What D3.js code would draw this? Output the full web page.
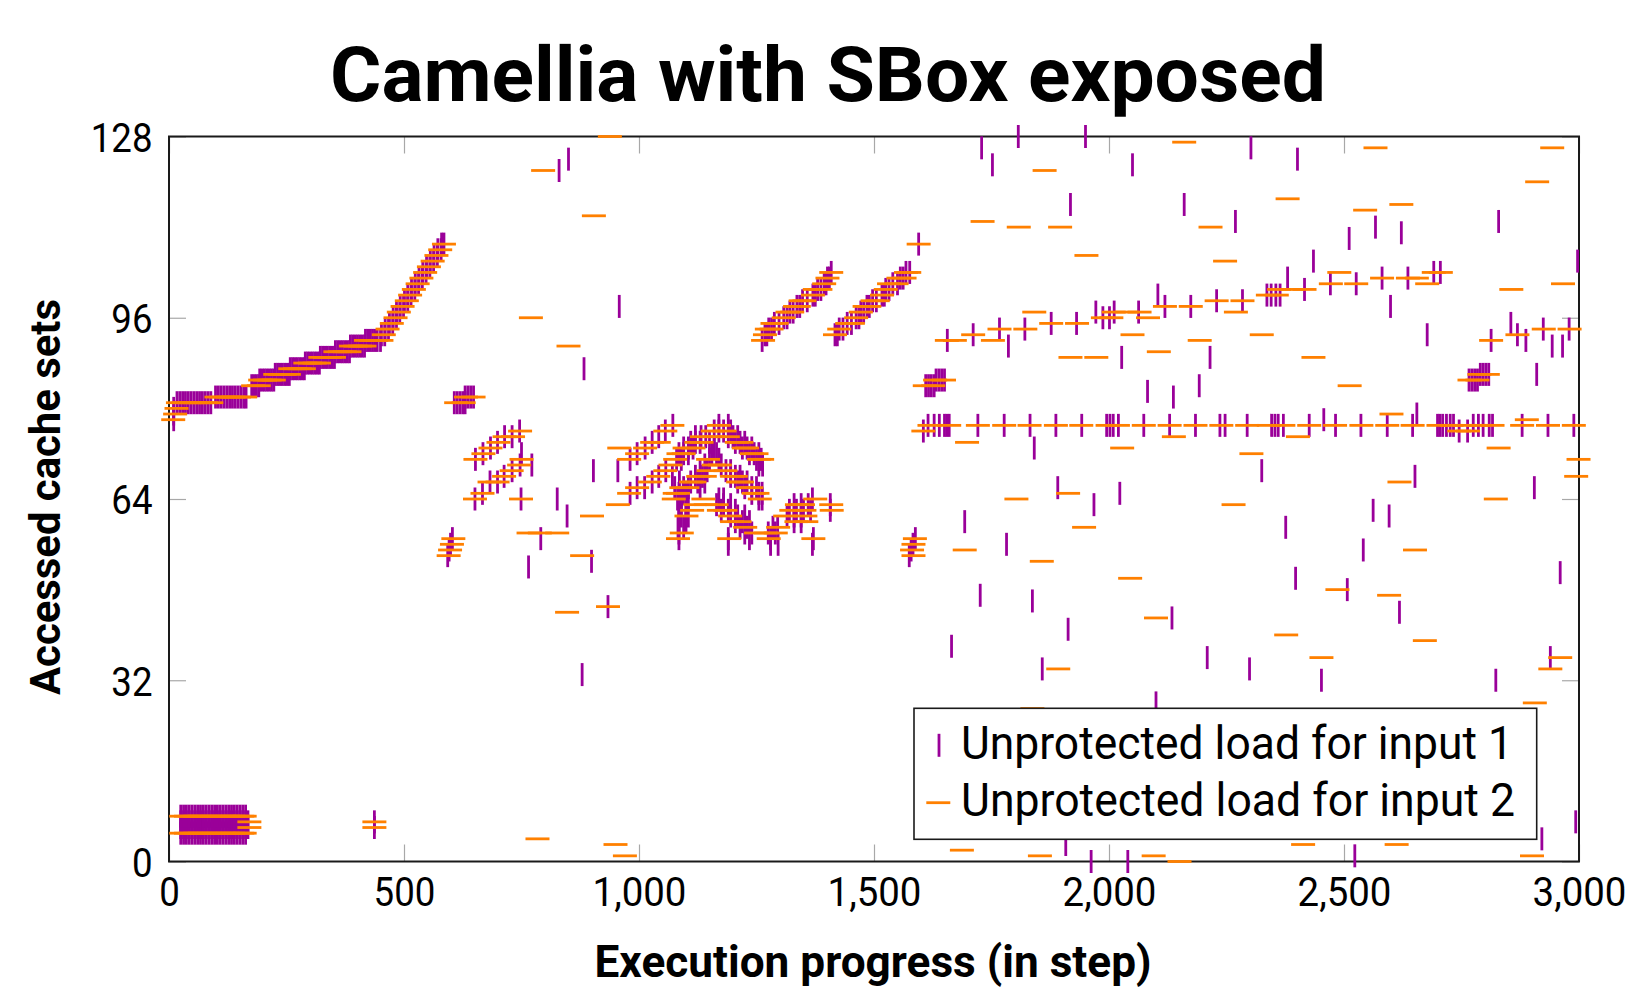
<!doctype html>
<html>
<head>
<meta charset="utf-8">
<script src="https://d3js.org/d3.v7.min.js"></script>
<style>
body { margin: 0; background: #fff; }
text { font-family: Roboto, "DejaVu Sans", sans-serif; }
</style>
</head>
<body>
<script>
// ---------------- data ----------------
// rows are [cache set, [execution steps ...]]
var xTicks = [0, 500, 1000, 1500, 2000, 2500, 3000];
var yTicks = [0, 32, 64, 96, 128];
var seriesNames = ["Unprotected load for input 1", "Unprotected load for input 2"];
var titleText = "Camellia with SBox exposed";

var lowBlockSteps = [25,31,37,43,49,55,61,67,73,79,85,91,97,103,109,115,121,127,133,139,145,151,157,163];
var lowBlockSteps2 = [26,36,46,56,66,76,86,96,106,116,126,136,146,156,161];

// input 1 (purple, vertical mark)
var input1Start = [
  [5, lowBlockSteps], [6, lowBlockSteps], [7, lowBlockSteps], [8, lowBlockSteps],
  [6, [168, 437]], [7, [168, 437]],
  [78, [10]], [79, [10]], [80, [10]],
  [81, [17,23,29,35,41,47,53,59,65,71,77,83,89]],
  [82, [99,105,111,117,123,129,135,141,147,153,159,164]],
  [84, [176,181,186,191]],
  [85, [193,198,203,208,213,218,223]],
  [86, [226,231,236,241,246,251,256]],
  [87, [258,263,268,273,278,283,288]],
  [88, [290,295,300,305,310,315,320]],
  [89, [322,327,332,337,342,347,352]],
  [90, [354,359,364,369,374,379,384]],
  [91, [386,391,396,401,406,411,416]],
  [92, [418,423,428,433,438,443,450]],
  [93, [452,459]], [94, [460,467]], [95, [469,476]], [96, [477,484]], [97, [484,491]],
  [98, [492,499]], [99, [501,508]], [100, [508,515]], [101, [516,523]], [102, [524,531]],
  [103, [532,539]], [104, [540,547]], [105, [548,555]], [106, [556,563]], [107, [564,571]],
  [108, [572,579]], [109, [580,585]],
  [81, [607,613,619,625,630]], [82, [630,636,642,648]],
  [54, [593]], [55, [596]], [56, [599]], [57, [603]],
  [64, [651,749,826]], [65, [667]], [67, [683,699]], [68, [713]], [69, [730]], [70, [747,772]],
  [71, [652]], [72, [668,750]], [73, [684]], [74, [699]], [75, [714,730]], [76, [746]],
  [52, [765]], [57, [791]], [61, [847]], [33, [879]], [53, [899]], [69, [903,955]], [45, [934]],
  [122, [830]], [124, [850]], [87, [883]], [98, [958]]
];

var input1Middle = [
  [71, [981]], [72, [996]], [73, [1013]], [74, [1028]], [75, [1042]], [76, [1056]], [77, [1072]],
  [65, [981]], [66, [996,1012,1076]], [67, [1028,1086]], [68, [1042,1071]], [69, [1057]],
  [64, [1082]], [63, [1090]], [65, [1094]],
  [77, [1170,1190]],
  [76, [1160,1170,1180,1195]],
  [75, [1120,1132,1142,1190,1200,1210]],
  [74, [1110,1120,1130,1150,1205,1215,1225]],
  [73, [1095,1105,1115,1160,1220,1230,1240]],
  [72, [1085,1095,1105,1155,1165,1235,1245,1255]],
  [71, [1080,1090,1150,1170,1250,1260]],
  [70, [1140,1175,1255,1263]],
  [69, [1130,1145,1185,1195]],
  [68, [1120,1135,1195,1205,1215]],
  [67, [1110,1125,1140,1210,1220,1230]],
  [66, [1095,1105,1130,1225,1240,1250]],
  [65, [1085,1100,1240,1255,1262]],
  [64, [1090,1105,1170,1180,1255,1262,1369]],
  [63, [1085,1100,1165,1180,1195,1330,1345,1360,1407]],
  [62, [1085,1100,1175,1190,1205,1320,1335,1350,1365,1407]],
  [61, [1090,1105,1195,1210,1225,1315,1330,1345]],
  [60, [1085,1100,1205,1220,1235,1330,1345]],
  [59, [1083,1095,1215,1230,1285,1295]],
  [58, [1085,1225,1240,1275,1290]],
  [57, [1085,1190,1235,1280,1371]],
  [56, [1190,1280,1296,1369]],
  [92, [1262]], [93, [1268,1272]], [94, [1276,1282]], [95, [1288,1298]], [96, [1308,1315]],
  [97, [1321,1328]], [98, [1336,1342]], [99, [1348,1358]], [100, [1370,1375]], [101, [1380,1387]],
  [102, [1394,1398]], [103, [1401,1405]], [104, [1409]],
  [93, [1417,1422]], [94, [1426,1434]], [95, [1443,1452]], [96, [1462,1468]], [97, [1472,1478]],
  [98, [1485,1490]], [99, [1497,1505]], [100, [1517,1522]], [101, [1525,1532]], [102, [1540,1550]],
  [103, [1556,1562]], [104, [1568,1576]],
  [109, [1595]],
  [54, [1575]], [55, [1579]], [56, [1583]], [57, [1588]]
];

var input1Late = [
  [76, [1605,2745,2763]],
  [77, [1615,1628,1639,1650,1655,1660,1721,1777,1832,1887,1942,1995,2002,2009,2020,2074,2129,2184,
        2236,2247,2294,2346,2353,2360,2371,2426,2482,2536,2592,2646,2699,2704,2710,2718,2726,2733,
        2775,2786,2796,2809,2816,2879,2934,2989]],
  [78, [2457]], [79, [2655]],
  [84, [1610,1616,1622,1628]], [85, [1632,1638,1644,1650]],
  [92, [1656,2813,2887]], [93, [1711,2677,2869]], [94, [1767,1821,2924,2979]], [91, [1786,2943,2965]],
  [95, [1877,1931,2855]], [97, [1972,2011,2063]], [96, [1987,2001]], [89, [2027,2215]],
  [100, [2104,2336,2345,2355,2364]], [98, [2119,2174,2599]], [99, [2229,2284]],
  [103, [2380,2581,2636]], [101, [2416]], [102, [2471,2526]], [104, [2691,2705]], [86, [2910]],
  [85, [2766,2772,2778,2784]], [86, [2790,2796,2802,2808]],
  [126, [1729,2302]], [123, [1752,2050]], [128, [1807,1950]], [116, [1918,2160]], [113, [2269,2829]],
  [124, [2401]], [110, [2511]], [112, [2567]], [111, [2622]], [106, [2435,2997]],
  [83, [2082]], [82, [2137]], [84, [2192]], [73, [1841]], [69, [2325]], [68, [2651]], [66, [1891,2905]],
  [63, [1968]], [65, [2023]], [60, [1693]], [56, [1782]], [47, [1726]], [46, [1837]], [41, [1913]],
  [43, [2134]], [38, [1665]], [34, [1858,2299]], [36, [2209,2939]], [28, [2100]], [3, [1908]],
  [0, [1962,2040]], [62, [2562]], [61, [2596]], [59, [2376]], [55, [2541]], [51, [2960]], [50, [2397]],
  [48, [2507]], [44, [2618]], [32, [2452,2823]], [7, [2993]], [4, [2921]], [1, [2523]]
];

// input 2 (orange, horizontal mark)
var input2Start = [
  [8, lowBlockSteps2], [5, lowBlockSteps2],
  [7, [171,437]], [6, [171,437]],
  [78, [9]], [79, [13]], [80, [16]],
  [81, [19,31,43,55,67,79,90,611,627]],
  [82, [101,113,125,137,149,162,632,648]],
  [84, [179,191]],
  [85, [194,204,214,223]],
  [86, [226,236,246,255]],
  [87, [258,268,278,287]],
  [88, [290,300,310,319]],
  [89, [322,332,342,351]],
  [90, [354,364,374,384]],
  [91, [387,397,407,416]],
  [92, [419,430,441,452]],
  [93, [457]], [94, [465]], [95, [474]], [96, [482]], [97, [489]], [98, [497]], [99, [506]],
  [100, [513]], [101, [521]], [102, [529]], [103, [537]], [104, [545]], [105, [553]], [106, [561]],
  [107, [569]], [108, [577]], [109, [585]],
  [57, [605]], [56, [602]], [55, [598]], [54, [595]],
  [76, [747]], [75, [714,732]], [74, [701]], [73, [684]], [72, [669]], [71, [652,750]], [70, [745]],
  [69, [729]], [68, [713]], [67, [682,699]], [65, [667]], [64, [651,749]],
  [58, [765,789,826]], [4, [784]], [122, [796]], [96, [770]], [91, [850]], [114, [904]], [128, [938]],
  [73, [958]], [61, [900]], [54, [879]], [44, [847]], [45, [934]], [3, [950]], [1, [970]]
];

var input2Middle = [
  [63, [955]], [65, [979,1076]], [66, [996]], [67, [1023]], [68, [1041]], [69, [1056]], [70, [1067]],
  [71, [979]], [72, [996]], [73, [1013]], [74, [1028,1042]], [76, [1056]], [77, [1071]], [64, [1074]],
  [77, [1170]], [76, [1157,1182]], [75, [1134,1160,1189]], [74, [1122,1133,1208,1218]],
  [73, [1097,1116,1223,1230]], [72, [1084,1095,1240,1250]], [71, [1077,1147,1255,1262]],
  [70, [1159,1172]], [69, [1148,1184]], [68, [1126,1140,1198,1206]], [67, [1111,1118,1211,1219]],
  [66, [1090,1103,1231,1239]], [65, [1083,1244,1252]], [64, [1137,1257,1375]],
  [63, [1120,1142,1165,1336,1349,1409]], [62, [1113,1170,1184,1324,1352,1410]],
  [61, [1101,1194,1311,1354]], [60, [1198,1214,1335,1356]], [59, [1226,1296]],
  [58, [1091,1249,1270,1291]], [57, [1083,1192,1276,1371]],
  [92, [1264]], [93, [1268]], [94, [1272,1282]], [95, [1284,1293]], [96, [1308]], [97, [1316,1326]],
  [98, [1332,1340]], [99, [1344,1352]], [100, [1370]], [101, [1374,1386]], [102, [1394]],
  [103, [1401]], [104, [1409]],
  [93, [1417]], [94, [1426]], [95, [1443,1455]], [96, [1462]], [97, [1472]], [98, [1480,1490]],
  [99, [1497,1508]], [100, [1517]], [101, [1525]], [102, [1532,1548]], [103, [1552,1565]],
  [104, [1568,1575]],
  [109, [1595]],
  [57, [1587]], [56, [1584]], [55, [1581]], [54, [1584]]
];

var input2Late = [
  [76, [1605,2745,2764]],
  [77, [1618,1660,1721,1777,1831,1887,1941,1997,2019,2074,2129,2184,2239,2294,2340,2371,2426,2481,
        2537,2592,2646,2701,2729,2757,2786,2816,2879,2934,2989]],
  [74, [1698]], [73, [2028,2829]], [75, [2138,2402]], [72, [2303]], [79, [2601]], [78, [2889]],
  [71, [2999]], [68, [2994]], [67, [2618]],
  [85, [1630,1649,2767,2784]], [84, [1608,1626,2512]], [86, [2788,2806]],
  [92, [1655,1672,1753,2193,2813]], [93, [1711,2050,2325,2869]], [94, [1767,1822,2925,2980]],
  [97, [1841,2010,2038,2065,2270]], [95, [1877,1932]], [89, [1918,1973,2435]], [96, [1987,2005,2083]],
  [98, [2119,2174]], [90, [2106]], [99, [2229,2284]], [100, [2338,2357]], [101, [2362,2389,2416,2856]],
  [102, [2472,2526,2677,2966]], [103, [2581,2636,2655]], [104, [2490,2691,2706]],
  [122, [1863]], [127, [2160]], [117, [2380]], [113, [1731]], [112, [1808,1896,2216]], [107, [1952]],
  [106, [2247]], [126, [2567,2943]], [120, [2911]], [116, [2622]], [115, [2545]],
  [65, [1913]], [64, [1803,2823]], [63, [2265]], [59, [1947]], [55, [1693,2651]], [53, [1857]],
  [50, [2045]], [43, [2100]], [34, [1892,2939]], [27, [1837]], [2, [1687]], [1, [1853,2095,2900]],
  [0, [2150]], [48, [2486]], [47, [2596]], [40, [2377]], [39, [2672]], [36, [2452,2960]], [28, [2906]],
  [3, [2413,2612]]
];

// ---------------- drawing ----------------
var purple = "#9a0099", orange = "#ff8000";
var W = 1627, H = 988;

function expand(rows) {
  var out = [];
  rows.forEach(function(r) { r[1].forEach(function(s) { out.push([s, r[0]]); }); });
  return out;
}
var points1 = expand(input1Start.concat(input1Middle, input1Late));
var points2 = expand(input2Start.concat(input2Middle, input2Late));

var svg = d3.select("body").append("svg").attr("width", W).attr("height", H);

var x = d3.scaleLinear().domain([0, 3000]).range([169, 1579]);
var y = d3.scaleLinear().domain([0, 128]).range([861.5, 136.5]);

// ticks (inward, on all four sides)
function styleTicks(g) {
  g.select(".domain").remove();
  g.selectAll(".tick line").attr("stroke", "#a8a8a8").attr("stroke-width", 1.2);
  g.attr("font-family", null).attr("font-size", null);
}
function fitDigits(sel) {
  sel.each(function() {
    var t = this.textContent;
    var digits = t.replace(/[^0-9]/g, "").length, commas = t.length - digits;
    d3.select(this).attr("textLength", digits * 20.6 + commas * 11.5)
      .attr("lengthAdjust", "spacingAndGlyphs");
  });
}

var gx = svg.append("g").attr("transform", "translate(0," + y(0) + ")")
  .call(d3.axisBottom(x).tickValues(xTicks).tickSize(-17).tickPadding(15).tickFormat(d3.format(",")));
styleTicks(gx);
gx.selectAll("text").attr("fill", "#000").style("font-size", "41px").call(fitDigits);

var gxt = svg.append("g").attr("transform", "translate(0," + y(128) + ")")
  .call(d3.axisTop(x).tickValues(xTicks).tickSize(-17).tickFormat(""));
styleTicks(gxt);

var gy = svg.append("g").attr("transform", "translate(" + x(0) + ",0)")
  .call(d3.axisLeft(y).tickValues(yTicks).tickSize(-17).tickPadding(16.5));
styleTicks(gy);
gy.selectAll("text").attr("fill", "#000").attr("dy", "0.36em").style("font-size", "41px").call(fitDigits);

var gyr = svg.append("g").attr("transform", "translate(" + x(3000) + ",0)")
  .call(d3.axisRight(y).tickValues(yTicks).tickSize(-17).tickFormat(""));
styleTicks(gyr);

// frame
svg.append("rect")
  .attr("x", x(0)).attr("y", y(128))
  .attr("width", x(3000) - x(0)).attr("height", y(0) - y(128))
  .attr("fill", "none").attr("stroke", "#1a1a1a").attr("stroke-width", 2);

// marks
svg.append("g").selectAll("line").data(points1).join("line")
  .attr("x1", function(d) { return x(d[0]); })
  .attr("x2", function(d) { return x(d[0]); })
  .attr("y1", function(d) { return y(d[1]) - 11.5; })
  .attr("y2", function(d) { return y(d[1]) + 11.5; })
  .attr("stroke", purple).attr("stroke-width", 2.8);

svg.append("g").selectAll("line").data(points2).join("line")
  .attr("x1", function(d) { return x(d[0]) - 12; })
  .attr("x2", function(d) { return x(d[0]) + 12; })
  .attr("y1", function(d) { return y(d[1]); })
  .attr("y2", function(d) { return y(d[1]); })
  .attr("stroke", orange).attr("stroke-width", 2.8);

// title and axis labels
svg.append("text").attr("x", 828).attr("y", 100.6).attr("text-anchor", "middle")
  .style("font-size", "76px").style("font-weight", "bold")
  .attr("textLength", 996).attr("lengthAdjust", "spacingAndGlyphs")
  .text(titleText);

svg.append("text").attr("x", 873).attr("y", 977.4).attr("text-anchor", "middle")
  .style("font-size", "44px").style("font-weight", "bold")
  .attr("textLength", 557).attr("lengthAdjust", "spacingAndGlyphs")
  .text("Execution progress (in step)");

svg.append("text").attr("transform", "translate(60,497) rotate(-90)").attr("text-anchor", "middle")
  .style("font-size", "43px").style("font-weight", "bold")
  .attr("textLength", 396).attr("lengthAdjust", "spacingAndGlyphs")
  .text("Accessed cache sets");

// legend
var lg = svg.append("g");
lg.append("rect").attr("x", 914).attr("y", 708.3).attr("width", 622.7).attr("height", 131)
  .attr("fill", "#fff").attr("stroke", "#1a1a1a").attr("stroke-width", 1.6);
lg.append("line").attr("x1", 939).attr("x2", 939).attr("y1", 745.3 - 11.5).attr("y2", 745.3 + 11.5)
  .attr("stroke", purple).attr("stroke-width", 2.8);
lg.append("line").attr("x1", 926.3).attr("x2", 950.3).attr("y1", 802.7).attr("y2", 802.7)
  .attr("stroke", orange).attr("stroke-width", 2.8);
lg.selectAll("text.leg").data(seriesNames).join("text").attr("class", "leg")
  .attr("x", 961).attr("y", function(d, i) { return i === 0 ? 759.3 : 816; })
  .style("font-size", "46px")
  .attr("textLength", function(d, i) { return i === 0 ? 552 : 554; })
  .attr("lengthAdjust", "spacingAndGlyphs")
  .text(function(d) { return d; });
</script>
</body>
</html>
